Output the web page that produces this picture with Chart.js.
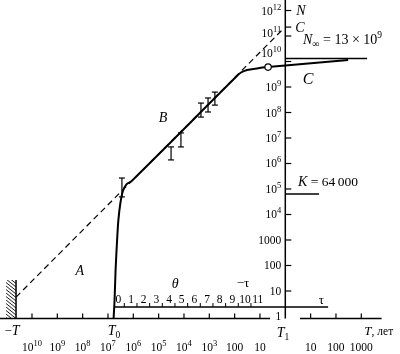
<!DOCTYPE html>
<html>
<head>
<meta charset="utf-8">
<script src="https://cdn.jsdelivr.net/npm/chart.js@4"></script>
<style>
  body { margin: 0; background: #fff; }
  canvas { display: block; }
</style>
</head>
<body>
<canvas id="c" width="400" height="354"></canvas>
<script>
// x = position on the time axis in decades: negative side is -log10(T1 - T), positive side log10(T - T1)
// y = log10 N

const curveX = [-6.78, -6.74, -6.70, -6.64, -6.59, -6.51, -6.41, -6.27, -6.07, -1.95, -1.75, -1.51, -1.12, -0.68, 0, 2.48];
const curveLogN = [-0.10, 0.65, 1.82, 3.00, 3.78, 4.45, 4.92, 5.18, 5.31, 9.39, 9.57, 9.67, 9.73, 9.78, 9.84, 10.06];

const hyperX = [-10.63, -0.09];
const hyperLogN = [0.76, 11.27];

const nowX = [-0.68];
const nowLogN = [9.78];

const errX = [-6.45, -4.51, -4.12, -3.33, -3.05, -2.78];
const errLo = [4.69, 6.14, 6.65, 7.82, 8.02, 8.29];
const errHi = [5.43, 6.65, 7.20, 8.37, 8.57, 8.80];

const nInf = 13e9;
const kNum = 64000;
const cLogN = 11.35;

const nTicks = [12, 11, 10, 9, 8, 7, 6, 5, 4, 3, 2, 1, 0];
const nTickLabels = ['10^12', '10^11', '10^10', '10^9', '10^8', '10^7', '10^6', '10^5', '10^4', '1000', '100', '10', '1'];
const tLeftTicks = [-10, -9, -8, -7, -6, -5, -4, -3, -2, -1];
const tLeftLabels = ['10^10', '10^9', '10^8', '10^7', '10^6', '10^5', '10^4', '10^3', '100', '10'];
const tRightTicks = [1, 2, 3];
const tRightLabels = ['10', '100', '1000'];
const thetaLabels = ['0', '1', '2', '3', '4', '5', '6', '7', '8', '9', '10', '11'];

const serif = '"Liberation Serif", "DejaVu Serif", serif';
function font(size, italic) { return (italic ? 'italic ' : '') + size + 'px ' + serif; }

function pts(xs, ys) { return xs.map((x, i) => ({ x: x, y: ys[i] })); }

// draw a row of text pieces: [text, size, italic, dy]
function runs(ctx, parts, x, y, align) {
  let w = 0;
  parts.forEach(p => { ctx.font = font(p[1], p[2]); w += ctx.measureText(p[0]).width; });
  let cx = align === 'center' ? x - w / 2 : align === 'right' ? x - w : x;
  ctx.textAlign = 'left';
  ctx.textBaseline = 'alphabetic';
  parts.forEach(p => {
    ctx.font = font(p[1], p[2]);
    ctx.fillText(p[0], cx, y + (p[3] || 0));
    cx += ctx.measureText(p[0]).width;
  });
}
function pow(s) {
  const a = s.split('^');
  return a.length > 1 ? [[a[0], 11.5], [a[1], 8.5, false, -5]] : [[a[0], 11.5]];
}

function line(ctx, x1, y1, x2, y2, w) {
  ctx.lineWidth = w || 1;
  ctx.beginPath();
  ctx.moveTo(x1, y1);
  ctx.lineTo(x2, y2);
  ctx.stroke();
}

const tAxisLogN = -0.08;
const thetaAxisLogN = 0.373;

const axesPlugin = {
  id: 'axes',
  beforeDatasetsDraw(chart) {
    const ctx = chart.ctx;
    const sx = chart.scales.x, sy = chart.scales.y;
    const px = v => sx.getPixelForValue(v), py = v => sy.getPixelForValue(v);
    ctx.save();
    ctx.strokeStyle = '#000';
    ctx.fillStyle = '#000';
    ctx.lineCap = 'butt';

    const x0 = px(0), yT = py(tAxisLogN);

    // N axis
    line(ctx, x0, 0, x0, yT, 1.5);
    nTicks.forEach((v, i) => {
      const y = py(v);
      if (v > 0) line(ctx, x0, y, x0 + 6, y, 1.2);
      let shift = 4;
      if (v === 11) shift = 1;
      if (v === 10) shift = -5;
      runs(ctx, pow(nTickLabels[i]), x0 - 4, y + shift, 'right');
    });
    line(ctx, x0, py(cLogN), x0 + 6, py(cLogN), 1.2);

    // time axis, left part
    line(ctx, 0, yT, px(-0.6), yT, 1.5);
    tLeftTicks.forEach((u, i) => {
      line(ctx, px(u), yT, px(u), yT - 5, 1.2);
      runs(ctx, pow(tLeftLabels[i]), px(u), 351, 'center');
    });
    // time axis, right part
    line(ctx, px(0.58), yT, px(3.8), yT, 1.5);
    tRightTicks.forEach((u, i) => {
      line(ctx, px(u), yT, px(u), yT - 5, 1.2);
      runs(ctx, pow(tRightLabels[i]), px(u), 351, 'center');
    });

    // theta axis
    const yTh = py(thetaAxisLogN);
    line(ctx, px(-6.76), yTh, px(1.69), yTh, 1.5);
    thetaLabels.forEach((s, k) => {
      runs(ctx, [[s, 11.5]], px(-6.59 + 0.5 * k), yTh - 4, 'center');
      if (k < thetaLabels.length - 1) line(ctx, px(-6.356 + 0.5 * k), yTh, px(-6.356 + 0.5 * k), yTh - 4, 1);
    });

    // wall at -T
    const xw = px(hyperX[0]), yw = py(1.43);
    line(ctx, xw, yw, xw, yT, 1.5);
    ctx.save();
    ctx.beginPath();
    ctx.rect(xw - 10, yw, 10, yT - yw);
    ctx.clip();
    for (let y = yw - 8; y < yT; y += 3.5) line(ctx, xw - 10, y, xw, y + 8, 0.9);
    ctx.restore();

    ctx.restore();
  },
  afterDatasetsDraw(chart) {
    const ctx = chart.ctx;
    const sx = chart.scales.x, sy = chart.scales.y;
    const px = v => sx.getPixelForValue(v), py = v => sy.getPixelForValue(v);
    ctx.save();
    ctx.strokeStyle = '#000';
    ctx.fillStyle = '#000';

    // error bars
    errX.forEach((u, i) => {
      const x = px(u), y1 = py(errLo[i]), y2 = py(errHi[i]);
      line(ctx, x, y1, x, y2, 1.2);
      line(ctx, x - 3, y1, x + 3, y1, 1.2);
      line(ctx, x - 3, y2, x + 3, y2, 1.2);
    });

    // annotations
    runs(ctx, [['N', 14, true]], px(0.62), py(12.02) + 5, 'center');
    runs(ctx, [['C', 14, true]], px(0.58), py(cLogN) + 5, 'center');
    runs(ctx, [['N', 14, true], ['\u221e', 10, false, 3], [' = 13 \u00d7 10', 14], ['9', 9.5, false, -6]], px(0.70), py(10.84) + 4, 'left');
    runs(ctx, [['C', 16, true]], px(0.90), py(9.31) + 5, 'center');
    runs(ctx, [['K', 14, true], [' = 64\u2009000', 13.5]], px(0.50), py(5.27) + 4, 'left');
    runs(ctx, [['B', 14, true]], px(-4.83), py(7.82) + 5, 'center');
    runs(ctx, [['A', 14, true]], px(-8.11), py(1.82) + 5, 'center');
    runs(ctx, [['\u03b8', 14, true]], px(-4.35), py(1.31) + 5, 'center');
    runs(ctx, [['\u2212\u03c4', 13]], px(-1.67), py(1.31) + 4, 'center');
    runs(ctx, [['\u03c4', 13]], px(1.42), py(0.65) + 4, 'center');
    runs(ctx, [['\u2212', 13], ['T', 14, true]], px(-10.79), py(-0.53) + 5, 'center');
    runs(ctx, [['T', 14, true], ['0', 9.5, false, 3]], px(-6.76), py(-0.53) + 5, 'center');
    runs(ctx, [['T', 14, true], ['1', 9.5, false, 3]], px(-0.09), py(-0.61) + 5, 'center');
    runs(ctx, [['T', 13, true], [', \u043b\u0435\u0442', 11.5]], px(3.12), py(-0.53) + 5, 'left');

    ctx.restore();
  }
};

const data = {
  datasets: [
    {
      data: pts(nowX, nowLogN),
      showLine: false,
      pointRadius: 3.2,
      pointBackgroundColor: '#fff',
      pointBorderColor: '#000',
      pointBorderWidth: 1.2,
      order: 0
    },
    {
      data: pts(curveX, curveLogN),
      showLine: true,
      borderColor: '#000',
      borderWidth: 2,
      pointRadius: 0,
      tension: 0.3,
      order: 1
    },
    {
      data: [{ x: 0, y: Math.log10(nInf) }, { x: 3.23, y: Math.log10(nInf) }],
      showLine: true,
      borderColor: '#000',
      borderWidth: 1.5,
      pointRadius: 0,
      order: 2
    },
    {
      data: [{ x: 0, y: Math.log10(kNum) }, { x: 1.33, y: Math.log10(kNum) }],
      showLine: true,
      borderColor: '#000',
      borderWidth: 1.5,
      pointRadius: 0,
      order: 2
    },
    {
      data: pts(hyperX, hyperLogN),
      showLine: true,
      borderColor: '#000',
      borderWidth: 1.2,
      borderDash: [6, 4],
      pointRadius: 0,
      order: 3
    }
  ]
};

const config = {
  type: 'scatter',
  data: data,
  options: {
    responsive: false,
    animation: false,
    devicePixelRatio: 1,
    layout: { padding: 0, autoPadding: false },
    plugins: { legend: { display: false }, tooltip: { enabled: false } },
    scales: {
      x: { type: 'linear', min: -11.263, max: 4.528, display: false },
      y: { type: 'linear', min: -1.471, max: 12.412, display: false }
    }
  },
  plugins: [axesPlugin]
};

new Chart(document.getElementById('c'), config);
</script>
</body>
</html>
